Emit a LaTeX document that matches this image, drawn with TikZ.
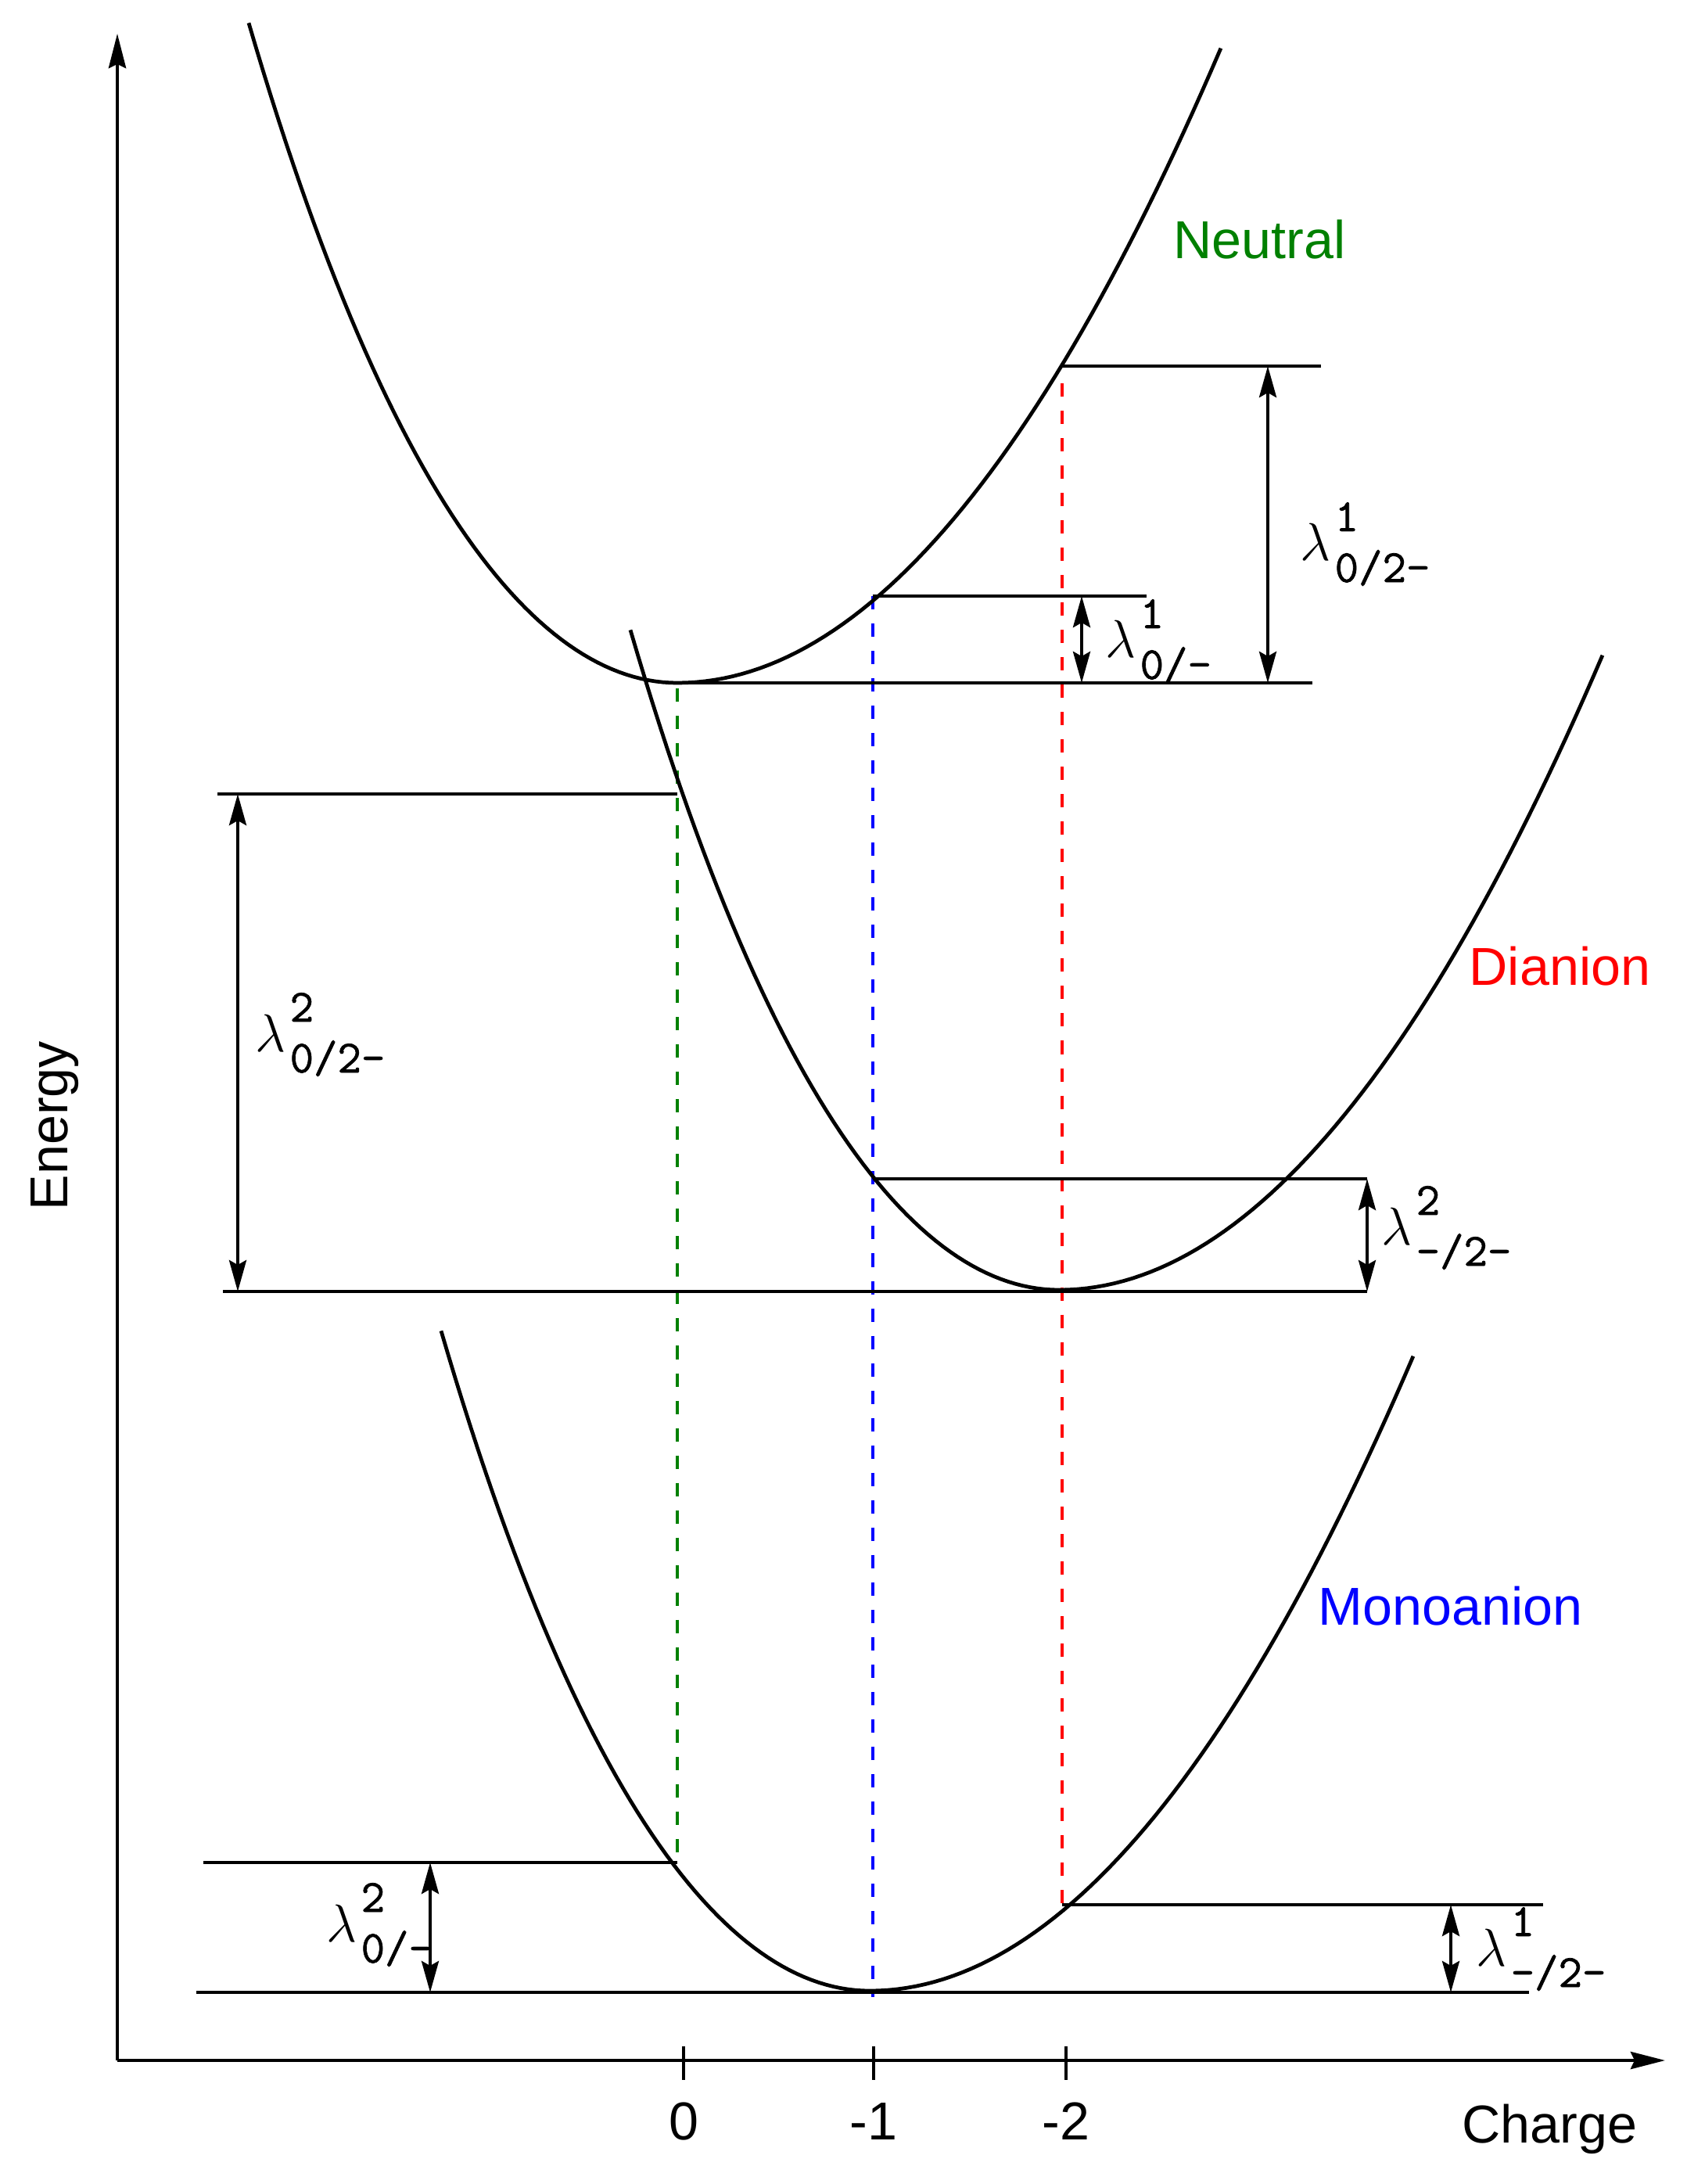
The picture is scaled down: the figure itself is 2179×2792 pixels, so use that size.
\RequirePackage{fix-cm}
\documentclass[tikz,border=0pt]{standalone}
\usepackage{fontspec}
\setmainfont{Liberation Sans}
\newfontfamily\scrfam[FakeBold=1.2]{Latin Modern Mono}
\usetikzlibrary{arrows.meta}

\definecolor{neutralgreen}{RGB}{0,128,0}
\newcommand{\scrfont}{\fontsize{16.8}{20}\selectfont\scrfam}
\newcommand{\lamlabel}[2]{$\lambda$\kern0.5mm\rlap{\raisebox{3.8mm}{\scrfont #1}}\raisebox{-2.7mm}{\scrfont #2}}

\tikzset{
  pesline/.style={line width=1.35pt},
  lvl/.style={line width=1.35pt},
  lamgap/.style={line width=1.2pt, {Stealth[length=4mm,width=2.2mm,inset=0.6mm]}-{Stealth[length=4mm,width=2.2mm,inset=0.6mm]}},
  guide/.style={line width=1.1pt, dash pattern=on 1.7mm off 1.8mm},
  ax/.style={line width=1.3pt, -{Stealth[length=4.4mm,width=2.2mm,inset=0.5mm]}},
  tickmark/.style={line width=1pt},
  lbl/.style={inner sep=0pt, font=\fontsize{19.4}{23}\selectfont},
  % one potential energy well, vertex at the pic origin
  pics/pes/.style={code={
    \draw[pesline] plot[domain=-5.48:0, samples=60] ({100*\x},{-25*\x*\x-0.103*\x*\x*\x*\x})
      -- plot[domain=0:6.95, samples=60] ({100*\x},{-16.8*\x*\x});
  }},
}

\begin{document}
\begin{tikzpicture}[x=0.01cm,y=-0.01cm]
\useasboundingbox (0,0) rectangle (2179,2792);

% axes
\coordinate (O) at (150,2634);
\coordinate (ytop) at (150,43);
\coordinate (xend) at (2129,2634);
\draw[ax] (O) -- (ytop);
\draw[ax] (O) -- (xend);
\foreach \x/\q/\name in {874/0/t0, 1117/-1/t1, 1363/-2/t2}{
  \draw[tickmark] (\x,2616) -- (\x,2659);
  \node[lbl, anchor=base] (\name) at (\x,2735) {\q};
}
\node[lbl, anchor=base west] (charge) at (1869,2739) {Charge};
\node[lbl, anchor=base west, rotate=90] (energy) at (86,1548) {Energy};

% dashed guides
\draw[guide, neutralgreen] (866,880) -- (866,2381);
\draw[guide, blue] (1116,762) -- (1116,2553);
\draw[guide, red] (1358,490) -- (1358,2435);

% neutral
\pic at (866,873) {pes};
\draw[lvl] (866,873) -- (1678,873);
\draw[lvl] (1116,762) -- (1466,762);
\draw[lvl] (1358,468) -- (1689,468);
\draw[lamgap] (1621,468) -- (1621,873);
\draw[lamgap] (1383,762) -- (1383,873);
\node[lbl, neutralgreen, anchor=base west] (neutral) at (1500,331) {Neutral};
\node[lbl, anchor=base west] (lamA) at (1662,717) {\lamlabel{1}{0/2-}};
\node[lbl, anchor=base west] (lamB) at (1413,841) {\lamlabel{1}{0/-}};

% dianion
\pic at (1354,1649) {pes};
\draw[lvl] (285,1651) -- (1748,1651);
\draw[lvl] (1116,1507) -- (1748,1507);
\draw[lvl] (278,1015) -- (866,1015);
\draw[lamgap] (304,1015) -- (304,1651);
\draw[lamgap] (1748,1507) -- (1748,1651);
\node[lbl, red, anchor=base west] (dianion) at (1878,1259) {Dianion};
\node[lbl, anchor=base west] (lamC) at (326,1344) {\lamlabel{2}{0/2-}};
\node[lbl, anchor=base west] (lamD) at (1766,1591) {\lamlabel{2}{-/2-}};

% monoanion
\pic at (1112,2545) {pes};
\draw[lvl] (251,2547) -- (1955,2547);
\draw[lvl] (260,2381) -- (866,2381);
\draw[lvl] (1358,2435) -- (1973,2435);
\draw[lamgap] (550,2381) -- (550,2547);
\draw[lamgap] (1855,2435) -- (1855,2547);
\node[lbl, blue, anchor=base west] (monoanion) at (1685,2077) {Monoanion};
\node[lbl, anchor=base west] (lamE) at (417,2482) {\lamlabel{2}{0/-}};
\node[lbl, anchor=base west] (lamF) at (1887,2513) {\lamlabel{1}{-/2-}};
\end{tikzpicture}
\end{document}
